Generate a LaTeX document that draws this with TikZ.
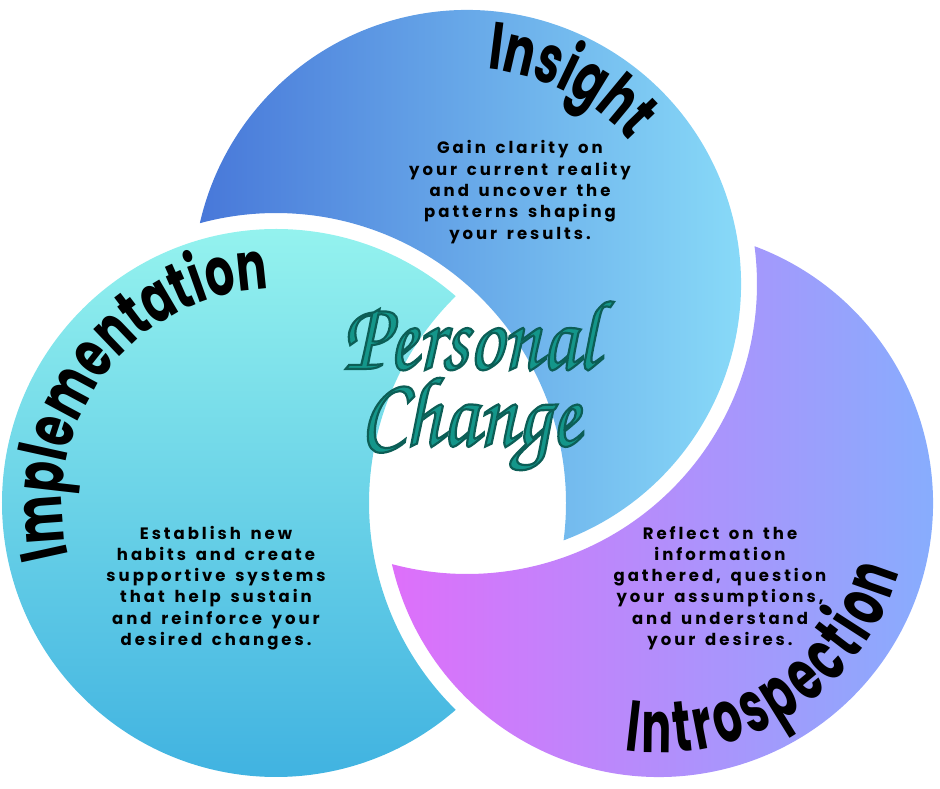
\documentclass[tikz,border=0pt]{standalone}
\usepackage{fontspec}
\usetikzlibrary{decorations.text}
\newfontfamily\titlefont{Poppins}[FakeStretch=0.68]
\newfontfamily\titlefontnarrow{Poppins}[FakeStretch=0.62]
\newfontfamily\bodyfont{Poppins}[LetterSpace=18,WordSpace=1.5]
\newfontfamily\scriptfnt{texgyrechorus-mediumitalic.otf}[FakeBold=2.2,FakeStretch=0.85]
\definecolor{blueL}{HTML}{4878D9}
\definecolor{blueR}{HTML}{8CE0FA}
\definecolor{tealT}{HTML}{99F6EF}
\definecolor{tealB}{HTML}{3DB0E0}
\definecolor{purL}{HTML}{DE6FFA}
\definecolor{purR}{HTML}{83B0FD}
\definecolor{pcFill}{HTML}{14968A}
\newcommand\pcstroke{\special{pdf:literal direct 0.047 0.369 0.337 RG}}
\tikzset{
  bodytext/.style={align=center,text=black,inner sep=0pt,
    font=\bodyfont\bfseries\fontsize{16.5}{21.3}\selectfont},
  scripttext/.style={inner sep=0pt,text=pcFill,font=\scriptfnt\fontsize{100}{100}\selectfont},
  titlepath/.style 2 args={decorate,decoration={text along path,text align=center,
    text={|\titlefont\bfseries\fontsize{#1}{#1}\selectfont|#2}}},
  fitpath/.style 2 args={decorate,decoration={text along path,text align=fit to path,
    text={|\titlefontnarrow\bfseries\fontsize{#1}{#1}\selectfont|#2}}}
}
\begin{document}
\begin{tikzpicture}[x=1pt,y=1pt]
\useasboundingbox (0,0) rectangle (940,788);
\coordinate (B) at (467,504);
\coordinate (T) at (276,285);
\coordinate (P) at (659,285);
% crescents
\shade[left color=blueL,right color=blueR] (B) ++(290.64:274)
  arc[start angle=290.64,end angle=527.18,radius=274]
  arc[start angle=105.23,end angle=-7.41,radius=290] -- cycle;
\shade[top color=tealT,bottom color=tealB] (T) ++(49.01:274)
  arc[start angle=49.01,end angle=310.99,radius=274]
  arc[start angle=225.49,end angle=134.51,radius=290] -- cycle;
\shade[left color=purL,right color=purR] (P) ++(192.88:274)
  arc[start angle=192.88,end angle=429.60,radius=274]
  arc[start angle=7.49,end angle=-105.01,radius=290] -- cycle;
% curved titles
\path[titlepath={67}{Insight}] (B) ++(90:216) arc[start angle=90,end angle=36,radius=216];
\path[titlepath={67}{Implementation}] (T) ++(200:214) arc[start angle=200,end angle=86,radius=214];
\path[fitpath={72}{Introspection}] (P) ++(262:250) arc[start angle=262,end angle=344,radius=250];
% body texts
\node[bodytext] (insBody) at (520,596) {Gain clarity on\\your current reality\\and uncover the\\patterns shaping\\your results.};
\node[bodytext] (impBody) at (216,200) {Establish new\\habits and create\\supportive systems\\that help sustain\\and reinforce your\\desired changes.};
\node[bodytext] (intBody) at (720,200) {Reflect on the\\information\\gathered, question\\your assumptions,\\and understand\\your desires.};
% Personal Change (teal fill, dark teal outline)
\node[scripttext] (personal) at (470,452) {\pcstroke Personal};
\node[scripttext] (change) at (470,364) {\pcstroke Change};
\end{tikzpicture}
\end{document}
